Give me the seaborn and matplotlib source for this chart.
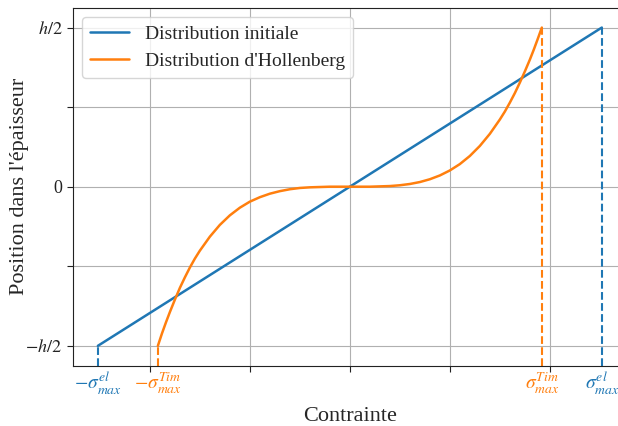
import numpy as np
import pandas as pd
import matplotlib
matplotlib.use("Agg")
import matplotlib.pyplot as plt
import matplotlib.transforms as mtransforms
import seaborn as sns

# ==============================================================================
# Données
# ==============================================================================
sigma_el = 2.52
sigma_tim = 1.92
demi_h = 0.5

contrainte_initiale = [-sigma_el, sigma_el]
position_initiale = [-demi_h, demi_h]

contrainte_hollenberg = [-1.92, -1.88, -1.84, -1.80, -1.75, -1.70, -1.65, -1.60, -1.55,
                         -1.50, -1.40, -1.30, -1.20, -1.10, -1.00, -0.90, -0.80, -0.70,
                         -0.60, -0.50, -0.40, -0.30, -0.20, -0.10, 0.00,
                         0.10, 0.20, 0.30, 0.40, 0.50, 0.60, 0.70, 0.80, 0.90, 1.00,
                         1.10, 1.20, 1.30, 1.40, 1.50, 1.55, 1.60, 1.65, 1.70, 1.75,
                         1.80, 1.84, 1.88, 1.92]
position_hollenberg = [-0.500, -0.462, -0.427, -0.394, -0.355, -0.318, -0.285, -0.254, -0.226,
                       -0.201, -0.157, -0.120, -0.090, -0.066, -0.047, -0.033, -0.022, -0.014,
                       -0.008, -0.004, -0.002, -0.001, 0.000, 0.000, 0.000,
                       0.000, 0.000, 0.001, 0.002, 0.0045, 0.0085, 0.0146, 0.0234, 0.0353, 0.051,
                       0.071, 0.0965, 0.128, 0.166, 0.211, 0.236, 0.264, 0.294, 0.327, 0.362,
                       0.399, 0.431, 0.465, 0.500]

graduations_y = [-0.5, -0.25, 0, 0.25, 0.5]
etiquettes_y = [r"$-h/2$", "", "0", "", r"$h/2$"]
graduations_x = [-2, -1, 0, 1, 2]

bleu = "#1f77b4"
orange = "#ff7f0e"

# ==============================================================================
# Figure
# ==============================================================================
sns.set_style("ticks")
plt.rcParams["font.family"] = ["Liberation Serif", "DejaVu Serif"]
plt.rcParams["mathtext.fontset"] = "stix"

fig = plt.figure(figsize=(6.18, 4.26), dpi=100)
ax = fig.add_axes([0.1176, 0.1415, 0.897, 0.8405])

df_init = pd.DataFrame({"x": contrainte_initiale, "y": position_initiale})
df_holl = pd.DataFrame({"x": contrainte_hollenberg, "y": position_hollenberg})

sns.lineplot(data=df_init, x="x", y="y", ax=ax, color=bleu, lw=1.8,
             sort=False, label="Distribution initiale")
sns.lineplot(data=df_holl, x="x", y="y", ax=ax, color=orange, lw=1.8,
             sort=False, label="Distribution d'Hollenberg")

ylim = (-0.5625, 0.5625)
ax.set_xlim(-2.772, 2.772)
ax.set_ylim(*ylim)

# Lignes pointillées vers l'axe des contraintes
for xs, ys, c in [(contrainte_initiale, position_initiale, bleu),
                  ([contrainte_hollenberg[0], contrainte_hollenberg[-1]],
                   [position_hollenberg[0], position_hollenberg[-1]], orange)]:
    for xv, yv in zip(xs, ys):
        ax.plot([xv, xv], [ylim[0], yv], ls="--", color=c, lw=1.5)

ax.set_xticks(graduations_x)
ax.set_xticklabels([])
ax.set_yticks(graduations_y)
ax.set_yticklabels(etiquettes_y, fontsize=13)
ax.grid(True, color="#b0b0b0", lw=0.8)
for s in ax.spines.values():
    s.set_color("#222222")
ax.tick_params(colors="#222222", length=4)

# Étiquettes des contraintes maximales
trans = mtransforms.blended_transform_factory(ax.transData, ax.transAxes)
etiquettes_x = [(-sigma_el, r"$-\sigma_{max}^{el}$", bleu),
                (-sigma_tim, r"$-\sigma_{max}^{Tim}$", orange),
                (sigma_tim, r"$\sigma_{max}^{Tim}$", orange),
                (sigma_el, r"$\sigma_{max}^{el}$", bleu)]
for xv, txt, c in etiquettes_x:
    ax.text(xv, -0.012, txt, transform=trans, ha="center", va="top",
            color=c, fontsize=14)

ax.set_xlabel("Contrainte", fontsize=16, labelpad=22)
ax.set_ylabel("Position dans l'épaisseur", fontsize=16, labelpad=-3)
ax.legend(loc="upper left", fontsize=14, framealpha=0.8)

plt.savefig("out.png", dpi=100)
